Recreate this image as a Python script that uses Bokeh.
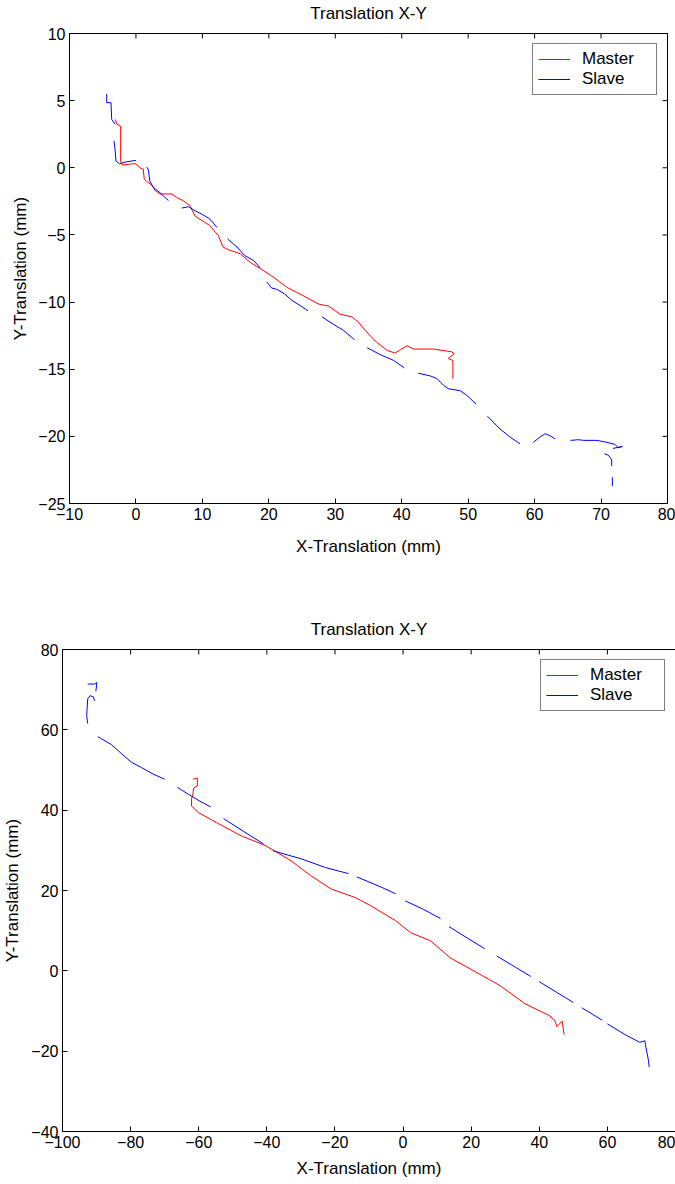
import numpy as np
from bokeh.plotting import figure
from bokeh.models import Range1d, LinearAxis, FixedTicker, Legend, LegendItem
from bokeh.embed import file_html
from bokeh.resources import INLINE

nan = float("nan")

# ---------------- Top chart data ----------------
x_ticks_top = [-10, 0, 10, 20, 30, 40, 50, 60, 70, 80]
y_ticks_top = [-25, -20, -15, -10, -5, 0, 5, 10]

master_top_x = [-3.1, -2.9, -2.3, -2.3, -2.05, -0.4, 0, 0.6, 1.1, 1.25, 1.6, 2.4, 2.9, 3.6, 5.4, 6.1, 7.1,
                8.1, 8.9, 11.1, 12.4, 13.1, 13.9, 15.7, 17.2, 18.7, 20.7, 22.7, 24.7, 26.2, 27.5, 29.0, 30.7,
                32.5, 33.5, 34.5, 36.0, 37.8, 39.0, 39.8, 40.8, 41.8, 44.8, 47.5, 47.9, 47.0, 47.7, 47.7]
master_top_y = [3.6, 3.25, 3.1, 0.5, 0.2, 0.3, 0.3, 0, -0.1, -0.85, -1.0, -1.3, -1.7, -1.95, -1.95, -2.2, -2.45,
                -2.8, -3.6, -4.3, -5.05, -5.9, -6.1, -6.4, -7.05, -7.5, -8.15, -8.9, -9.4, -9.8, -10.15, -10.3, -10.9,
                -11.1, -11.5, -12.1, -12.9, -13.6, -13.8, -13.55, -13.25, -13.5, -13.5, -13.7, -13.85, -14.2, -14.35, -15.7]

slave_top_x = [-4.4, -4.4, -3.75, -3.65, -3.15, nan,
               -3.3, -3.15, -3.0, -2.5, -1.4, 0, nan,
               1.6, 1.85, 2.1, 2.6, 3.6, 4.9, nan,
               6.9, 7.9, 8.9, 9.9, 11.1, 12.2, nan,
               13.8, 15.2, 16.4, 17.7, 18.7, nan,
               19.7, 20.4, 21.2, 22.4, 23.4, 24.7, 25.9, nan,
               28.0, 29.7, 31.2, 32.9, nan,
               34.8, 36.7, 38.8, 40.4, nan,
               42.5, 44.3, 45.3, 46.3, 47.0, 48.8, 49.8, 51.2, nan,
               52.9, 54.8, 56.3, 57.8, nan,
               59.8, 60.8, 61.6, 62.3, 63.1, nan,
               65.4, 66.6, 67.4, 69.4, 70.9, 72.1, 72.6, 73.2, 71.8, nan,
               70.5, 71.1, 71.6, 71.6, nan,
               71.7, 71.7]
slave_top_y = [5.5, 4.85, 4.85, 3.6, 3.25, nan,
               2.0, 1.4, 0.5, 0.3, 0.45, 0.55, nan,
               0.05, -0.1, -1.0, -1.45, -1.85, -2.45, nan,
               -3.0, -2.9, -3.2, -3.45, -3.8, -4.45, nan,
               -5.3, -5.9, -6.55, -6.9, -7.45, nan,
               -8.5, -8.95, -9.05, -9.4, -9.85, -10.25, -10.65, nan,
               -11.1, -11.65, -12.1, -12.8, nan,
               -13.4, -13.9, -14.35, -14.9, nan,
               -15.3, -15.5, -15.7, -16.2, -16.45, -16.6, -16.95, -17.6, nan,
               -18.5, -19.45, -20.05, -20.55, nan,
               -20.45, -20.05, -19.8, -19.95, -20.2, nan,
               -20.3, -20.25, -20.3, -20.3, -20.45, -20.6, -20.85, -20.75, -20.9, nan,
               -21.3, -21.4, -21.75, -22.2, nan,
               -23.05, -23.7]

# ---------------- Bottom chart data ----------------
x_ticks_bot = [-100, -80, -60, -40, -20, 0, 20, 40, 60, 80]
y_ticks_bot = [-40, -20, 0, 20, 40, 60, 80]

master_bot_x = [-61.7, -60.4, -60.4, -61.5, -61.7, -62.1, -62.1, -60.1, -54.8, -47.5, -40.2, -32.9, -27.1,
                -21.2, -13.9, -9.5, -2.2, 2.2, 8.0, 13.9, 19.7, 28.5, 35.8, 43.1, 44.6, 45.2, 46.7, 47.3]
master_bot_y = [47.7, 48.0, 46.0, 45.5, 44.0, 42.8, 41.0, 39.4, 36.9, 33.6, 31.1, 27.4, 23.7,
                20.4, 18.2, 16.2, 12.5, 9.5, 7.5, 3.2, 0.5, -3.7, -8.2, -11.2, -12.5, -13.9, -12.5, -15.9]

slave_bot_x = [-92.6, -90.6, -89.9, -90.2, nan,
               -90.6, -90.9, -91.9, -92.6, -92.9, -92.6, nan,
               -89.6, -85.6, -82.6, -79.7, -76.8, -73.4, -70.0, nan,
               -66.3, -63.1, -60.2, -56.5, nan,
               -52.7, -47.0, -41.0, nan,
               -38.2, -30.0, -22.7, -16.0, nan,
               -13.6, -6.6, -2.2, nan,
               0.7, 6.0, 11.0, nan,
               13.5, 19.0, 24.0, nan,
               27.5, 33.0, 37.5, nan,
               40.0, 45.0, 50.0, nan,
               52.5, 56.0, 58.5, nan,
               60.0, 65.0, 69.5, 71.0, 71.3, 72.0, 72.3]
slave_bot_y = [71.4, 71.4, 71.8, 69.6, nan,
               67.2, 68.2, 68.5, 67.7, 63.5, 61.6, nan,
               58.3, 56.3, 54.0, 51.9, 50.6, 49.0, 47.7, nan,
               45.7, 44.0, 42.5, 40.8, nan,
               37.9, 34.8, 31.6, nan,
               29.9, 27.9, 25.7, 24.2, nan,
               23.4, 20.9, 19.2, nan,
               17.4, 15.3, 13.0, nan,
               11.0, 8.1, 5.5, nan,
               3.7, 0.9, -1.4, nan,
               -2.7, -5.3, -7.9, nan,
               -9.2, -11.0, -12.3, nan,
               -13.2, -15.8, -17.8, -17.4, -19.0, -22.0, -24.0]

series_names = ["Master", "Slave"]
series_colors = ["#ff0000", "#0000ff"]
chart_title = "Translation X-Y"

FONT = "Liberation Sans"


def style_axis(ax):
    ax.axis_line_color = "black"
    ax.axis_line_width = 1
    ax.major_tick_in = 5
    ax.major_tick_out = 0
    ax.minor_tick_line_color = None
    ax.major_tick_line_color = "black"
    ax.major_label_text_font = FONT
    ax.major_label_text_color = "black"
    ax.major_label_text_font_size = "16px"
    ax.major_label_standoff = 4
    ax.axis_label_text_font = FONT
    ax.axis_label_text_font_size = "17px"
    ax.axis_label_text_font_style = "normal"
    ax.axis_label_text_color = "black"


def make_fig(xr, yr, xt, yt, w, h, ml, mr, mt, mb, mx, my, sx, sy, xls, yls, right_side=True):
    p = figure(width=w, height=h, x_range=Range1d(*xr), y_range=Range1d(*yr),
               output_backend="svg", toolbar_location=None,
               min_border_left=ml, min_border_right=mr, min_border_top=mt, min_border_bottom=mb)
    p.grid.visible = False
    p.background_fill_color = "white"
    p.border_fill_color = "white"
    p.outline_line_color = "black" if right_side else None

    p.xaxis.ticker = FixedTicker(ticks=xt)
    p.yaxis.ticker = FixedTicker(ticks=yt)
    p.xaxis.axis_label = "X-Translation (mm)"
    p.yaxis.axis_label = "Y-Translation (mm)"
    for ax in p.xaxis + p.yaxis:
        style_axis(ax)
    p.xaxis.axis_label_standoff = xls
    p.yaxis.axis_label_standoff = yls

    # top edge of the box, carrying the chart title
    top = LinearAxis(ticker=FixedTicker(ticks=[]))
    style_axis(top)
    top.major_tick_line_color = None
    top.major_tick_in = 0
    top.major_label_standoff = 0
    top.axis_label = chart_title
    top.axis_label_standoff = 11
    p.add_layout(top, "above")

    # inward tick marks on the top (and right) edges of the box
    p.scatter(x=xt, y=[yr[1]] * len(xt), marker="dash", size=10, angle=np.pi / 2,
              line_color="black", line_width=1)
    if right_side:
        p.scatter(x=[xr[1]] * len(yt), y=yt, marker="dash", size=10,
                  line_color="black", line_width=1)

    r1 = p.line(np.array(mx, dtype=float), np.array(my, dtype=float), line_color=series_colors[0], line_width=1)
    r2 = p.line(np.array(sx, dtype=float), np.array(sy, dtype=float), line_color=series_colors[1], line_width=1)

    leg = Legend(items=[LegendItem(label=series_names[0], renderers=[r1]),
                        LegendItem(label=series_names[1], renderers=[r2])],
                 location="top_right")
    leg.border_line_color = "black"
    leg.border_line_width = 1
    leg.background_fill_color = "white"
    leg.background_fill_alpha = 1
    leg.label_text_font = FONT
    leg.label_text_font_size = "17px"
    leg.label_text_color = "black"
    leg.glyph_width = 32
    leg.glyph_height = 18
    leg.label_height = 18
    leg.label_width = 69
    leg.label_standoff = 12
    leg.padding = 5
    leg.spacing = 0
    leg.margin = 10
    p.add_layout(leg)
    return p


p1 = make_fig((-10, 80), (-25, 10), x_ticks_top, y_ticks_top, 675, 580, 69, 8, 33, 77,
              master_top_x, master_top_y, slave_top_x, slave_top_y, 14, 5, right_side=True)
p2 = make_fig((-100, 80), (-40, 80), x_ticks_bot, y_ticks_bot, 675, 604, 61, 0, 69, 53,
              master_bot_x, master_bot_y, slave_bot_x, slave_bot_y, 8, 6, right_side=False)

open("out.html", "w").write(file_html([p1, p2], INLINE))
